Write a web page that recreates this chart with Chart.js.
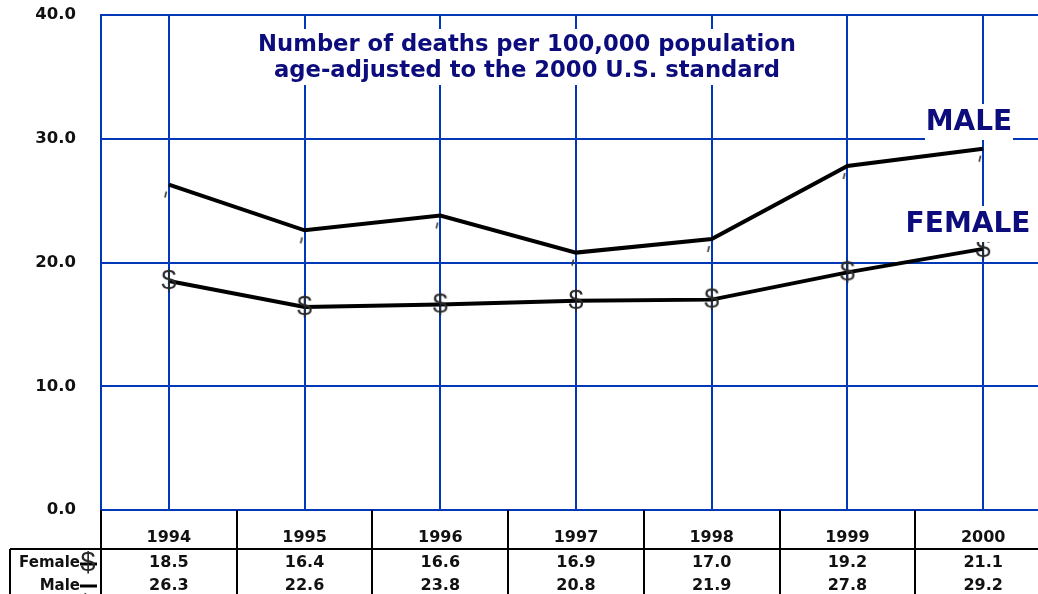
<!DOCTYPE html>
<html>
<head>
<meta charset="utf-8">
<script src="https://cdn.jsdelivr.net/npm/chart.js@4.4.1/dist/chart.umd.min.js"></script>
<style>
  html, body { margin: 0; padding: 0; background: #fff; }
  #wrap { width: 1038px; height: 594px; overflow: hidden; }
  canvas { display: block; }
</style>
</head>
<body>
<div id="wrap"><canvas id="chart" width="1052" height="594" style="width:1052px;height:594px"></canvas></div>
<script>
const years = ["1994", "1995", "1996", "1997", "1998", "1999", "2000"];
const female = [18.5, 16.4, 16.6, 16.9, 17.0, 19.2, 21.1];
const male = [26.3, 22.6, 23.8, 20.8, 21.9, 27.8, 29.2];
const yTicks = [0, 10, 20, 30, 40];
const titleLines = ["Number of deaths per 100,000 population", "age-adjusted to the 2000 U.S. standard"];

const BLUE = "#0038b8";
const NAVY = "#0c0c7c";
const FONT = "'DejaVu Sans', Verdana, sans-serif";

// marker glyphs the original printed in place of symbols
function dollarMarker() {
  const c = document.createElement("canvas");
  c.width = 24; c.height = 32;
  const g = c.getContext("2d");
  g.fillStyle = "#2a2a2a";
  g.font = "27px 'Liberation Sans', Arial, sans-serif";
  g.textAlign = "center";
  g.textBaseline = "middle";
  g.fillText("$", 12, 17);
  return c;
}
function tickMarker() {
  const c = document.createElement("canvas");
  c.width = 20; c.height = 30;
  const g = c.getContext("2d");
  g.strokeStyle = "#333";
  g.lineWidth = 1.6;
  g.beginPath();
  g.moveTo(6, 28);
  g.lineTo(7.5, 22);
  g.stroke();
  return c;
}
const femaleMark = dollarMarker();
const maleMark = tickMarker();

const overlay = {
  id: "overlay",
  afterDraw(chart) {
    const ctx = chart.ctx;
    const x = chart.scales.x;
    const area = chart.chartArea;
    ctx.save();

    // title
    ctx.fillStyle = "#fff";
    ctx.fillRect(250, 29, 556, 56);
    ctx.fillStyle = NAVY;
    ctx.font = "bold 22.7px " + FONT;
    ctx.textAlign = "center";
    ctx.textBaseline = "middle";
    ctx.fillText(titleLines[0], 527, 45);
    ctx.fillText(titleLines[1], 527, 71);

    // series labels
    ctx.fillStyle = "#fff";
    ctx.fillRect(925, 104, 88, 36);
    ctx.fillRect(905, 206, 126, 36);
    ctx.fillStyle = NAVY;
    ctx.font = "bold 28px " + FONT;
    ctx.fillText("MALE", 969, 123);
    ctx.fillText("FEMALE", 968, 225);

    // data table
    const rowTop = 549;
    ctx.strokeStyle = "#000";
    ctx.lineWidth = 2;
    ctx.beginPath();
    ctx.moveTo(10, rowTop); ctx.lineTo(chart.width, rowTop);
    ctx.moveTo(10, rowTop); ctx.lineTo(10, chart.height);
    ctx.moveTo(area.left, area.bottom); ctx.lineTo(area.left, chart.height);
    for (let i = 0; i < years.length - 1; i++) {
      const bx = Math.round((x.getPixelForValue(i) + x.getPixelForValue(i + 1)) / 2);
      ctx.moveTo(bx, area.bottom); ctx.lineTo(bx, chart.height);
    }
    ctx.stroke();

    ctx.fillStyle = "#111";
    ctx.font = "bold 16px " + FONT;
    ctx.textAlign = "center";
    years.forEach((y, i) => {
      const px = x.getPixelForValue(i);
      ctx.fillText(female[i].toFixed(1), px, 563);
      ctx.fillText(male[i].toFixed(1), px, 586);
    });

    ctx.font = "bold 15px " + FONT;
    ctx.textAlign = "right";
    ctx.fillText("Female", 80, 563);
    ctx.fillText("Male", 80, 586);
    ctx.lineWidth = 3;
    ctx.strokeStyle = "#000";
    ctx.beginPath();
    ctx.moveTo(80, 564); ctx.lineTo(97, 564);
    ctx.moveTo(80, 586); ctx.lineTo(97, 586);
    ctx.stroke();
    ctx.drawImage(femaleMark, 88 - 12, 563 - 16);
    ctx.drawImage(maleMark, 88 - 10, 586 - 15);
    ctx.restore();
  }
};

new Chart(document.getElementById("chart"), {
  type: "line",
  data: {
    labels: years,
    datasets: [
      {
        label: "Male",
        data: male,
        borderColor: "#000",
        borderWidth: 4,
        tension: 0,
        pointStyle: maleMark,
        pointRadius: 10,
      },
      {
        label: "Female",
        data: female,
        borderColor: "#000",
        borderWidth: 4,
        tension: 0,
        pointStyle: femaleMark,
        pointRadius: 10,
      },
    ],
  },
  options: {
    responsive: false,
    animation: false,
    devicePixelRatio: 1,
    layout: { autoPadding: false, padding: { top: 15, right: 1, left: 0, bottom: 0 } },
    plugins: {
      legend: { display: false },
      tooltip: { enabled: false },
    },
    scales: {
      x: {
        type: "category",
        offset: true,
        afterFit: (s) => { s.height = 84; s.paddingLeft = 0; s.paddingRight = 0; },
        grid: { color: BLUE, lineWidth: 2, offset: false, drawTicks: false },
        border: { display: false },
        ticks: {
          color: "#111",
          font: { family: FONT, size: 16, weight: "bold" },
          padding: 18,
          maxRotation: 0,
        },
      },
      y: {
        min: 0,
        max: 40,
        afterFit: (s) => { s.width = 101; s.paddingTop = 0; s.paddingBottom = 0; },
        afterBuildTicks: (s) => { s.ticks = yTicks.map((v) => ({ value: v })); },
        grid: { color: BLUE, lineWidth: 2, drawTicks: false },
        border: { display: true, color: BLUE, width: 2 },
        ticks: {
          color: "#111",
          font: { family: FONT, size: 16.5, weight: "bold" },
          padding: 25,
          callback: (v) => v.toFixed(1),
        },
      },
    },
  },
  plugins: [overlay],
});
</script>
</body>
</html>
